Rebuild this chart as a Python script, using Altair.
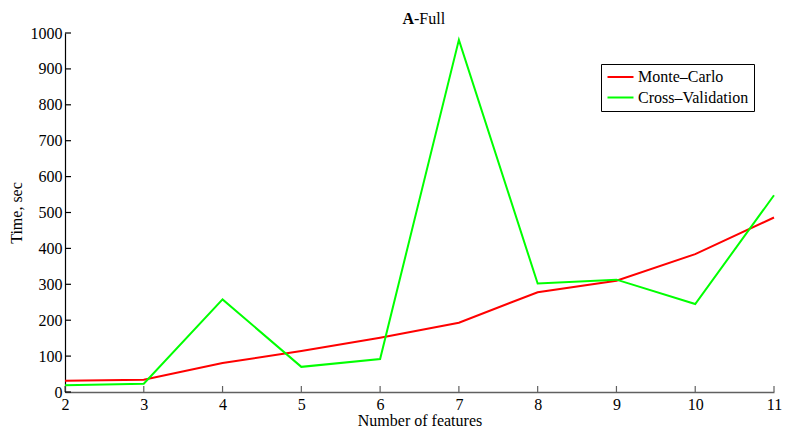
import altair as alt
import pandas as pd

features = [2, 3, 4, 5, 6, 7, 8, 9, 10, 11]
monte_carlo = [31, 34, 81, 114, 151, 193, 278, 310, 384, 486]
cross_validation = [19, 23, 258, 70, 92, 981, 302, 313, 245, 548]
series_names = ["Monte\u2013Carlo", "Cross\u2013Validation"]
series_colors = ["#ff0000", "#00ff00"]
x_ticks = [2, 3, 4, 5, 6, 7, 8, 9, 10, 11]
y_ticks = [0, 100, 200, 300, 400, 500, 600, 700, 800, 900, 1000]

rows = []
for f, mc, cv in zip(features, monte_carlo, cross_validation):
    rows.append({"x": f, "y": mc, "series": series_names[0]})
    rows.append({"x": f, "y": cv, "series": series_names[1]})
df = pd.DataFrame(rows)

W, H = 709, 359
FONT = "'Liberation Serif', 'Times New Roman', serif"

xscale = alt.Scale(domain=[2, 11], nice=False, zero=False)
yscale = alt.Scale(domain=[0, 1000], nice=False)

xaxis = alt.Axis(values=x_ticks, format="d", ticks=False, title="Number of features",
                 labelPadding=4, titlePadding=0, domainColor="#606060",
                 domainWidth=1.5, labelFontSize=16, titleFontSize=16,
                 labelFont=FONT, titleFont=FONT, labelOverlap=False,
                 labelFlush=False, labelColor="#000000", titleColor="#000000",
                 titleFontWeight="normal", grid=False)
yaxis = alt.Axis(values=y_ticks, format="d", ticks=False, title="Time, sec",
                 labelPadding=3, titlePadding=6, domainColor="#000000",
                 domainWidth=1.2, labelFontSize=16, titleFontSize=16,
                 labelFont=FONT, titleFont=FONT, labelOverlap=False,
                 labelFlush=False, labelColor="#000000", titleColor="#000000",
                 titleFontWeight="normal", grid=False)

lines = alt.Chart(df).mark_line(strokeWidth=2).encode(
    x=alt.X("x:Q", scale=xscale, axis=xaxis),
    y=alt.Y("y:Q", scale=yscale, axis=yaxis),
    color=alt.Color("series:N",
                    scale=alt.Scale(domain=series_names, range=series_colors),
                    legend=alt.Legend(title=None, orient="none", legendX=536, legendY=31,
                                      symbolType="M-1,0L3,0", symbolSize=169,
                                      symbolStrokeWidth=2, labelFontSize=16,
                                      labelFont=FONT, labelColor="#000000",
                                      strokeColor="#000000", fillColor="#ffffff",
                                      padding=5, rowPadding=4.5, labelOffset=16,
                                      labelLimit=300)),
    detail="series:N",
)

xt = pd.DataFrame({"x": x_ticks})
yt = pd.DataFrame({"y": y_ticks})
xtick_rules = alt.Chart(xt).mark_rule(color="#606060", strokeWidth=1.2).encode(
    x=alt.X("x:Q", scale=xscale, axis=xaxis), y=alt.value(H), y2=alt.value(H - 6))
ytick_rules = alt.Chart(yt).mark_rule(color="#000000", strokeWidth=1.2).encode(
    y=alt.Y("y:Q", scale=yscale, axis=yaxis), x=alt.value(0), x2=alt.value(6))

title_a = alt.Chart(pd.DataFrame({"t": ["A"]})).mark_text(
    align="right", baseline="alphabetic", fontSize=16, fontWeight="bold", font=FONT
).encode(text="t:N", x=alt.value(349), y=alt.value(-9))
title_rest = alt.Chart(pd.DataFrame({"t": ["-Full"]})).mark_text(
    align="left", baseline="alphabetic", fontSize=16, font=FONT
).encode(text="t:N", x=alt.value(349), y=alt.value(-9))

chart = alt.layer(lines, xtick_rules, ytick_rules, title_a, title_rest).properties(
    width=W, height=H,
    autosize=alt.AutoSizeParams(type="none"),
    padding={"left": 57, "top": 25, "right": 8, "bottom": 40},
).configure(font=FONT).configure_view(stroke=None)

chart.save("out.html", embed_options={"renderer": "svg", "actions": False})
